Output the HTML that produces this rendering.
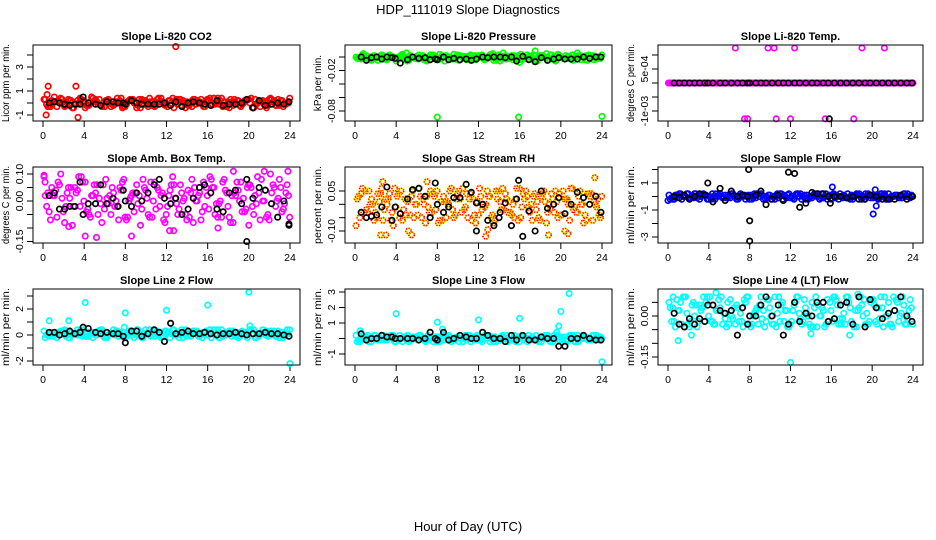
<!DOCTYPE html>
<html><head><meta charset="utf-8">
<style>
html,body{margin:0;padding:0;background:#fff;}
svg{display:block;font-family:"Liberation Sans",sans-serif;}
</style></head>
<body>
<svg id="chart" width="936" height="540" viewBox="0 0 936 540">
<text x="468" y="14" text-anchor="middle" font-size="13">HDP_111019  Slope Diagnostics</text>
<text x="468" y="531" text-anchor="middle" font-size="13">Hour of Day (UTC)</text>
</svg>
<script>
// shared x ticks
const xTicks = [0,4,8,12,16,20,24];
// black sample hours
const blackHours = [0.6,1.1,1.6,2.1,2.6,3.1,3.6,3.9,4.4,5.1,5.6,6.2,6.8,7.3,7.8,8.0,8.6,9.1,9.6,10.2,10.8,11.3,11.8,12.4,12.9,13.5,14.1,14.6,15.2,15.7,16.3,16.9,17.5,18.1,18.7,19.3,19.8,20.4,21.0,21.6,22.2,22.8,23.4,23.9];

// P1 CO2
const co2Dense1 = [0.3,-0.2,0.5,0.1,-0.3,0.2,-0.1,0.4,-0.4,0.1,0.3,-0.2,0.2,-0.3,0.1,0.4,-0.1,0.2,-0.4,0.3,0.0,-0.2,0.3,0.1,-0.3,0.4,-0.1,0.2,-0.2,0.3,0.0,-0.3,0.2,0.4,-0.1,0.1,-0.4,0.3,-0.2,0.2,0.0,0.3,-0.3,0.1,0.4,-0.2,0.2,-0.1];
const co2Dense2 = [-0.1,0.2,-0.3,0.3,0.0,-0.4,0.2,0.1,-0.2,0.4,-0.1,0.0,0.3,-0.2,0.1,-0.3,0.2,0.0,0.3,-0.1,0.4,-0.3,0.1,-0.2,0.2,0.0,0.3,-0.4,0.1,-0.1,0.3,0.2,-0.2,0.0,0.4,-0.3,0.1,0.2,-0.1,0.3,-0.4,0.0,0.2,-0.2,0.1,0.3,-0.3,0.0];
const co2OutHours = [0.3,0.5,0.4,3.2,3.4,12.9];
const co2OutVals = [-1.0,1.4,0.7,1.4,-1.2,4.7];
const co2Black = [0.0,0.1,0.0,-0.1,-0.2,-0.1,-0.1,0.5,0.0,-0.1,-0.2,0.1,0.1,0.0,0.0,-0.1,0.2,0.0,-0.1,-0.1,-0.1,-0.1,0.0,-0.2,0.1,-0.3,0.0,0.1,0.0,-0.1,-0.2,0.2,-0.2,-0.1,-0.1,0.0,0.3,-0.4,0.2,-0.2,-0.1,0.0,-0.1,0.1];

// P2 Pressure
const presDense1 = [0.0,-0.003,0.002,-0.005,-0.001,0.003,-0.004,0.001,-0.002,0.004,-0.006,0.0,-0.003,0.002,-0.001,0.003,-0.004,0.0,-0.002,0.004,-0.005,0.001,-0.003,0.002,0.0,-0.004,0.003,-0.001,-0.006,0.002,0.0,-0.003,0.004,-0.002,0.001,-0.005,0.002,-0.001,0.003,-0.004,0.0,-0.002,0.003,-0.003,0.001,-0.005,0.002,0.0];
const presDense2 = [-0.002,0.001,-0.004,0.002,0.0,-0.003,0.003,-0.001,0.001,-0.004,0.002,-0.002,0.0,-0.005,0.003,0.0,-0.002,0.002,-0.003,0.0,0.001,-0.004,0.002,-0.001,0.003,-0.002,0.0,0.002,-0.003,0.001,-0.004,0.002,0.0,-0.003,0.003,-0.001,0.0,-0.004,0.001,0.002,-0.003,0.001,-0.001,0.002,-0.004,0.0,0.001,-0.002];
const presOutHours = [0.8,5.0,8.0,13.4,14.4,15.9,16.0,17.5,18.6,19.5,21.6,24.0,7.0,4.0];
const presOutVals = [0.005,0.006,-0.089,0.005,0.006,-0.089,-0.008,0.009,0.005,-0.006,0.006,-0.088,-0.006,-0.006];
const presBlack = [0.0,-0.005,-0.001,0.0,-0.003,0.0,-0.001,-0.002,-0.009,-0.004,0.0,-0.002,-0.001,-0.004,-0.003,-0.004,0.0,-0.004,-0.002,-0.004,-0.003,-0.005,-0.003,0.0,-0.001,0.0,0.0,-0.001,0.0,-0.006,0.001,-0.004,-0.007,-0.001,-0.005,-0.003,-0.001,-0.003,-0.003,-0.003,0.0,-0.002,0.0,0.0];

// P3 Li-820 Temp
const tempDense1 = [0,0,0,0,0,0,0,0,0,0,0,0,0,0,0,0,0,0,0,0,0,0,0,0,0,0,0,0,0,0,0,0,0,0,0,0,0,0,0,0,0,0,0,0,0,0,0,0];
const tempDense2 = [0,0,0,0,0,0,0,0,0,0,0,0,0,0,0,0,0,0,0,0,0,0,0,0,0,0,0,0,0,0,0,0,0,0,0,0,0,0,0,0,0,0,0,0,0,0,0,0];
const tempOutHours = [6.6,9.8,10.4,12.4,19.0,21.2,7.5,7.8,10.6,12.0,15.4,18.2,0.05,24.0];
const tempOutVals = [0.00125,0.00125,0.00125,0.00125,0.00125,0.00125,-0.00128,-0.00128,-0.00128,-0.00128,-0.00128,-0.00128,0,0];
const tempBlack = [0,0,0,0,0,0,0,0,0,0,0,0,0,0,0,0,0,0,0,0,0,0,0,0,0,0,0,0,0,0,0,0,0,0,0,0,0,0,0,0,0,0,0,0];
const tempBlackOutHours = [15.8];
const tempBlackOutVals = [-0.00128];

// P4 Amb box temp
const ambDense1 = [0.09,-0.04,0.02,0.06,-0.08,0.01,0.05,-0.02,0.07,-0.06,0.03,-0.01,0.08,-0.05,0.0,0.04,-0.07,0.02,0.06,-0.03,0.01,-0.06,0.05,0.03,-0.02,0.09,-0.05,0.0,0.04,-0.08,0.02,0.07,-0.03,0.05,-0.01,0.08,-0.06,0.03,0.0,-0.04,0.06,0.02,-0.07,0.04,0.1,-0.02,0.05,0.03];
const ambDense2 = [-0.02,0.05,-0.06,0.01,0.03,-0.09,0.04,0.07,-0.03,0.02,-0.05,0.06,-0.01,0.03,-0.07,0.08,0.0,-0.04,0.02,0.05,-0.06,0.07,-0.02,-0.08,0.04,0.01,0.06,-0.05,0.03,0.0,-0.07,0.05,0.08,-0.01,-0.06,0.03,0.02,0.07,-0.04,0.05,-0.02,0.09,0.0,-0.05,0.06,0.01,-0.03,0.02];
const ambOutHours = [4.1,5.2,8.6,2.5,12.3,12.7,17.0,18.5,20.0,21.5,23.8,0.1,0.2];
const ambOutVals = [-0.13,-0.135,-0.13,-0.095,-0.11,-0.11,-0.1,0.11,-0.09,0.11,0.11,0.095,0.07];
const ambBlack = [0.02,0.03,-0.03,-0.03,-0.02,-0.02,0.07,-0.05,-0.01,-0.01,0.06,-0.01,0.01,-0.02,0.04,0.0,-0.02,0.03,0.0,0.03,0.06,0.08,0.01,-0.01,0.01,-0.05,-0.03,0.01,0.05,0.06,0.03,-0.03,-0.04,0.03,0.04,-0.01,0.08,0.01,0.05,0.04,-0.01,-0.06,0.0,-0.09];
const ambBlackOutHours = [19.8,23.9];
const ambBlackOutVals = [-0.15,-0.085];

// P5 Gas stream RH
const rhDense1 = [-0.08,0.04,-0.02,0.02,-0.05,0.06,0.0,-0.03,0.03,-0.06,0.01,0.05,-0.04,0.02,-0.01,0.04,-0.07,0.03,0.0,-0.05,0.05,-0.02,0.02,-0.04,0.06,-0.01,0.03,-0.06,0.01,0.04,-0.03,0.02,-0.05,0.05,0.0,-0.02,0.03,-0.07,0.04,0.01,-0.04,0.02,0.06,-0.03,0.0,0.04,-0.06,0.02];
const rhDense2 = [0.03,-0.03,0.05,-0.06,0.01,-0.02,0.04,0.06,-0.05,0.02,-0.04,0.0,0.03,-0.07,0.05,-0.02,0.01,-0.05,0.06,0.02,-0.03,0.04,-0.06,0.01,-0.02,0.05,-0.04,0.02,0.06,-0.03,0.0,-0.06,0.04,-0.01,0.03,-0.05,0.05,0.0,-0.03,0.04,0.02,-0.06,-0.01,0.05,-0.04,0.03,0.0,-0.05];
const rhOutHours = [2.5,2.7,3.0,5.2,5.5,12.7,12.9,18.8,20.4,20.7,23.3,7.0];
const rhOutVals = [-0.115,0.085,-0.115,-0.1,-0.115,-0.12,-0.095,-0.115,-0.1,-0.11,0.1,0.085];
const rhBlack = [-0.03,-0.05,-0.045,-0.04,-0.01,0.065,-0.06,-0.01,-0.035,0.02,0.055,0.06,0.03,-0.05,0.08,0.0,-0.03,-0.01,0.025,0.025,0.075,0.045,0.005,0.0,-0.06,-0.08,-0.03,0.005,-0.08,0.02,-0.12,-0.025,-0.1,0.05,-0.015,0.0,0.025,-0.035,0.0,0.045,0.025,0.0,0.03,-0.03];
const rhBlackOutHours = [11.8,15.9,14.0];
const rhBlackOutVals = [-0.1,0.09,-0.05];

// P6 Sample flow
const sfDense1 = [0.1,-0.2,0.2,0.0,-0.1,0.2,-0.2,0.1,0.0,-0.2,0.2,0.1,-0.1,0.0,0.2,-0.2,0.1,-0.1,0.2,0.0,-0.2,0.1,0.2,-0.1,0.0,0.2,-0.2,0.1,-0.1,0.0,0.2,-0.2,0.1,0.0,-0.1,0.2,-0.2,0.1,0.0,0.2,-0.1,-0.2,0.1,0.2,0.0,-0.1,0.2,0.0];
const sfDense2 = [-0.1,0.1,-0.2,0.2,0.0,-0.1,0.1,-0.2,0.2,0.0,-0.1,0.1,0.2,-0.2,0.0,0.1,-0.1,0.2,-0.2,0.1,0.0,-0.1,0.1,0.2,-0.2,0.0,0.1,-0.1,0.2,-0.2,0.0,0.1,-0.1,0.2,0.0,-0.2,0.1,0.0,0.2,-0.1,0.1,0.2,-0.2,0.0,0.1,-0.1,0.0,0.1];
const sfOutHours = [16.1,20.1,20.3,20.4,0.0];
const sfOutVals = [0.7,-1.3,0.5,-0.7,-0.3];
const sfBlack = [0.0,-0.1,0.1,-0.2,0.0,0.2,0.1,1.0,-0.4,0.6,-0.3,0.4,0.0,0.1,0.0,-1.8,0.1,0.4,-0.6,-0.2,0.1,-0.3,1.8,1.7,-0.8,-0.5,0.3,0.2,0.2,0.0,0.0,0.0,-0.1,0.0,-0.2,-0.2,0.1,0.0,-0.2,-0.2,-0.2,0.1,-0.2,0.0];
const sfBlackOutHours = [8.0,7.9,15.9];
const sfBlackOutVals = [-3.3,2.0,-0.5];

// P7 Line 2 flow
const l2Dense1 = [0.3,-0.1,0.2,0.0,0.4,-0.2,0.1,0.3,-0.1,0.2,0.0,0.4,-0.2,0.1,0.3,0.0,-0.1,0.2,0.4,-0.2,0.1,0.0,0.3,-0.1,0.2,0.4,0.0,-0.2,0.1,0.3,-0.1,0.2,0.0,0.4,-0.2,0.1,0.3,0.0,-0.1,0.2,0.4,-0.2,0.1,0.0,0.3,-0.1,0.2,0.0];
const l2Dense2 = [0.0,0.2,-0.2,0.3,0.1,0.0,0.4,-0.1,0.2,-0.2,0.3,0.1,0.0,0.4,-0.1,0.2,0.3,-0.2,0.0,0.1,0.4,-0.1,0.2,0.3,-0.2,0.0,0.1,0.4,-0.1,0.2,0.0,0.3,-0.2,0.1,0.4,0.0,-0.1,0.2,0.3,-0.2,0.1,0.0,0.4,-0.1,0.2,0.3,-0.2,0.1];
const l2OutHours = [0.6,2.5,4.1,8.0,12.0,16.0,20.0,24.0,20.1,7.9];
const l2OutVals = [1.1,1.1,2.5,1.7,1.9,2.3,3.3,-2.2,0.7,0.6];
const l2Black = [0.2,0.2,0.0,0.1,0.3,0.1,0.2,0.6,0.5,0.2,0.1,0.2,0.1,0.1,-0.1,-0.6,0.3,0.3,-0.1,0.1,0.4,0.2,-0.5,0.9,0.1,0.2,0.3,0.1,0.1,0.2,0.1,0.0,0.1,0.1,0.2,0.1,0.0,0.1,0.1,0.2,0.1,0.1,0.0,-0.1];

// P8 Line 3 flow
const l3Dense1 = [0.2,-0.1,0.1,-0.2,0.0,0.2,-0.1,0.1,0.0,-0.2,0.2,0.1,-0.1,0.0,0.2,-0.2,0.1,-0.1,0.2,0.0,-0.2,0.1,0.2,-0.1,0.0,0.2,-0.2,0.1,-0.1,0.0,0.2,-0.2,0.1,0.0,-0.1,0.2,-0.2,0.1,0.0,0.2,-0.1,-0.2,0.1,0.2,0.0,-0.1,0.2,0.0];
const l3Dense2 = [-0.1,0.1,-0.2,0.2,0.0,-0.1,0.1,-0.2,0.2,0.0,-0.1,0.1,0.2,-0.2,0.0,0.1,-0.1,0.2,-0.2,0.1,0.0,-0.1,0.1,0.2,-0.2,0.0,0.1,-0.1,0.2,-0.2,0.0,0.1,-0.1,0.2,0.0,-0.2,0.1,0.0,0.2,-0.1,0.1,0.2,-0.2,0.0,0.1,-0.1,0.0,0.1];
const l3OutHours = [4.0,8.0,8.5,12.0,16.0,19.8,20.0,20.8,24.0,19.6,0.5];
const l3OutVals = [1.6,1.05,0.6,1.2,1.3,0.8,1.75,2.9,-1.5,0.4,0.5];
const l3Black = [0.3,-0.1,0.0,0.0,0.2,0.1,0.1,0.0,0.0,0.0,0.0,-0.1,0.0,0.4,0.0,-0.1,0.4,-0.1,0.0,0.2,0.1,0.0,0.0,0.4,0.2,0.0,0.0,-0.2,0.2,-0.1,0.2,-0.1,-0.1,0.1,0.0,0.0,-0.5,-0.5,0.0,0.0,0.2,0.0,-0.1,-0.1];

// P9 Line 4 flow
const l4Dense1 = [0.05,-0.02,0.02,0.07,-0.04,0.0,0.04,-0.02,0.07,-0.03,0.03,-0.01,0.06,-0.03,0.01,0.05,-0.04,0.02,0.07,-0.02,0.0,-0.04,0.04,0.02,-0.02,0.07,-0.03,0.01,0.05,-0.04,0.03,0.06,-0.02,0.04,-0.01,0.07,-0.03,0.02,0.0,-0.03,0.06,0.03,-0.04,0.05,0.07,-0.02,0.04,0.02];
const l4Dense2 = [-0.02,0.06,-0.03,0.01,0.04,-0.04,0.03,0.07,-0.02,0.02,-0.03,0.05,-0.01,0.03,-0.04,0.07,0.0,-0.03,0.02,0.06,-0.03,0.07,-0.02,-0.04,0.04,0.01,0.06,-0.03,0.03,0.0,-0.04,0.05,0.07,-0.01,-0.03,0.03,0.02,0.07,-0.03,0.05,-0.02,0.07,0.0,-0.03,0.06,0.01,-0.03,0.03];
const l4OutHours = [1.0,4.7,12.0,18.6,2.3,0.5,14.0,17.8];
const l4OutVals = [-0.09,0.085,-0.17,0.08,-0.07,0.07,-0.065,-0.07];
const l4Black = [0.01,-0.03,-0.04,-0.01,-0.03,-0.01,-0.02,0.04,0.04,0.02,0.01,0.02,-0.07,0.03,-0.03,0.0,0.0,0.04,0.07,0.0,0.04,-0.07,-0.03,0.05,-0.02,0.01,0.0,0.05,0.05,-0.02,-0.01,0.04,0.05,-0.03,0.07,-0.04,0.06,0.03,-0.01,0.01,0.02,0.07,0.0,-0.02];

const NS = "http://www.w3.org/2000/svg";
const svg = document.getElementById('chart');
function mk(tag, attrs, parent){ const e=document.createElementNS(NS,tag); for(const k in attrs) e.setAttribute(k,attrs[k]); (parent||svg).appendChild(e); return e; }

const colX = [[33,300],[345,612],[658,923]];
const rowY = [[45,121],[167,243],[289,365]];

const panels = [
 {key:'co2',title:'Slope Li-820 CO2',ylab:'Licor ppm per min.',col:0,row:0,v0:-1,p0:115,v1:3,p1:67,ticks:[-1,0,1,2,3,4],labels:[-1,1,3],lab:['-1','1','3'],color:'#ff0000',d1:co2Dense1,d2:co2Dense2,oh:co2OutHours,ov:co2OutVals,bk:co2Black},
 {key:'pressure',title:'Slope Li-820 Pressure',ylab:'kPa per min.',col:1,row:0,v0:0,p0:57,v1:-0.08,p1:111,ticks:[0,-0.02,-0.04,-0.06,-0.08],labels:[-0.02,-0.08],lab:['-0.02','-0.08'],color:'#00ff00',d1:presDense1,d2:presDense2,oh:presOutHours,ov:presOutVals,bk:presBlack},
 {key:'li820-temp',title:'Slope Li-820 Temp.',ylab:'degrees C per min.',col:2,row:0,v0:0,p0:83,v1:0.0005,p1:69,ticks:[0.001,0.0005,0,-0.0005,-0.001],labels:[0.0005,-0.001],lab:['5e-04','-1e-03'],color:'#ff00ff',d1:tempDense1,d2:tempDense2,oh:tempOutHours,ov:tempOutVals,bk:tempBlack,boh:tempBlackOutHours,bov:tempBlackOutVals},
 {key:'amb-box-temp',title:'Slope Amb. Box Temp.',ylab:'degrees C per min.',col:0,row:1,v0:0,p0:201,v1:0.1,p1:174,ticks:[0.1,0.05,0,-0.05,-0.1,-0.15],labels:[0.1,0,-0.15],lab:['0.10','0.00','-0.15'],color:'#ff00ff',d1:ambDense1,d2:ambDense2,oh:ambOutHours,ov:ambOutVals,bk:ambBlack,boh:ambBlackOutHours,bov:ambBlackOutVals},
 {key:'gas-stream-rh',title:'Slope Gas Stream RH',ylab:'percent per min.',col:1,row:1,v0:0.05,p0:191,v1:-0.1,p1:231,ticks:[0.05,0,-0.05,-0.1],labels:[0.05,-0.1],lab:['0.05','-0.10'],color:'#ffd800',dash:'#ff0000',d1:rhDense1,d2:rhDense2,oh:rhOutHours,ov:rhOutVals,bk:rhBlack,boh:rhBlackOutHours,bov:rhBlackOutVals},
 {key:'sample-flow',title:'Slope Sample Flow',ylab:'ml/min per min.',col:2,row:1,v0:1,p0:183,v1:-3,p1:237,ticks:[2,1,0,-1,-2,-3],labels:[1,-1,-3],lab:['1','-1','-3'],color:'#0000ff',d1:sfDense1,d2:sfDense2,oh:sfOutHours,ov:sfOutVals,bk:sfBlack,boh:sfBlackOutHours,bov:sfBlackOutVals},
 {key:'line2-flow',title:'Slope Line 2 Flow',ylab:'ml/min per min.',col:0,row:2,v0:2,p0:309,v1:-2,p1:361,ticks:[-2,-1,0,1,2,3],labels:[-2,0,2],lab:['-2','0','2'],color:'#00ffff',d1:l2Dense1,d2:l2Dense2,oh:l2OutHours,ov:l2OutVals,bk:l2Black},
 {key:'line3-flow',title:'Slope Line 3 Flow',ylab:'ml/min per min.',col:1,row:2,v0:3,p0:292,v1:-1,p1:354,ticks:[-1,0,1,2,3],labels:[-1,1,2,3],lab:['-1','1','2','3'],color:'#00ffff',d1:l3Dense1,d2:l3Dense2,oh:l3OutHours,ov:l3OutVals,bk:l3Black},
 {key:'line4-flow',title:'Slope Line 4 (LT) Flow',ylab:'ml/min per min.',col:2,row:2,v0:0,p0:316,v1:-0.15,p1:357,ticks:[0.05,0,-0.05,-0.1,-0.15],labels:[0,-0.15],lab:['0.00','-0.15'],color:'#00ffff',d1:l4Dense1,d2:l4Dense2,oh:l4OutHours,ov:l4OutVals,bk:l4Black}
];

panels.forEach(p=>{
  const [L,R]=colX[p.col], [T,B]=rowY[p.row];
  const xs = h => L+10 + h*(R-L-20)/24;
  const ys = v => p.p0 + (v-p.v0)*(p.p1-p.p0)/(p.v1-p.v0);
  const g = mk('g',{});
  
  
  const t = mk('text',{x:(L+R)/2,y:T-5,'text-anchor':'middle','font-size':'11','font-weight':'bold'},g);
  t.textContent=p.title;
  
  
  const cx = L-24, cy=(T+B)/2;
  const yl = mk('text',{x:cx,y:cy,'text-anchor':'middle','font-size':'10','textLength':'78','lengthAdjust':'spacingAndGlyphs',transform:`rotate(-90 ${cx} ${cy})`},g);
  if(p.ylab.length<14){ yl.removeAttribute('textLength'); yl.removeAttribute('lengthAdjust'); }
  yl.textContent=p.ylab;
  
  
  xTicks.forEach(h=>{
    mk('line',{x1:xs(h),x2:xs(h),y1:B,y2:B+6,stroke:'#000'},g);
    const tl=mk('text',{x:xs(h),y:B+18,'text-anchor':'middle','font-size':'10.5'},g);
    tl.textContent=h;
    
    
  });
  p.ticks.forEach(v=>{ mk('line',{x1:L-6,x2:L,y1:ys(v),y2:ys(v),stroke:'#000'},g); });
  p.labels.forEach((v,i)=>{
    const X=L-10, Y=ys(v);
    const tl=mk('text',{x:X,y:Y,'text-anchor':'middle','font-size':'10.5',transform:`rotate(-90 ${X} ${Y})`},g);
    tl.textContent=p.lab[i];
    
    
  });
  const clip = mk('g',{},g);
  const dot=(h,v,col,dash,name)=>{
    const c=mk('circle',{cx:xs(h),cy:ys(v),r:2.7,fill:'none',stroke:col,'stroke-width':1.7},clip);
    
    
    if(dash){ mk('circle',{cx:xs(h),cy:ys(v),r:2.7,fill:'none',stroke:dash,'stroke-width':1.7,'stroke-dasharray':'1 1.5'},clip); }
  };
  const n=p.d1.length;
  p.d1.forEach((v,i)=>dot(i*0.5+0.1,v,p.color,p.dash,p.key+'-point'));
  p.d2.forEach((v,i)=>dot(i*0.5+0.35,v,p.color,p.dash,p.key+'-point'));
  p.d1.forEach((v,i)=>dot(((i+7)%n)*0.5+0.22,v,p.color,p.dash,p.key+'-point'));
  p.d2.forEach((v,i)=>dot(((i+13)%n)*0.5+0.47,v,p.color,p.dash,p.key+'-point'));
  p.oh.forEach((h,i)=>dot(h,p.ov[i],p.color,p.dash,p.key+'-point'));
  p.bk.forEach((v,i)=>dot(blackHours[i],v,'#000',null,p.key+'-ref-point'));
  if(p.boh) p.boh.forEach((h,i)=>dot(h,p.bov[i],'#000',null,p.key+'-ref-point'));
  const box=mk('rect',{x:L,y:T,width:R-L,height:B-T,fill:'none',stroke:'#000','stroke-width':1},g);
  
  
});
</script>
</body></html>
